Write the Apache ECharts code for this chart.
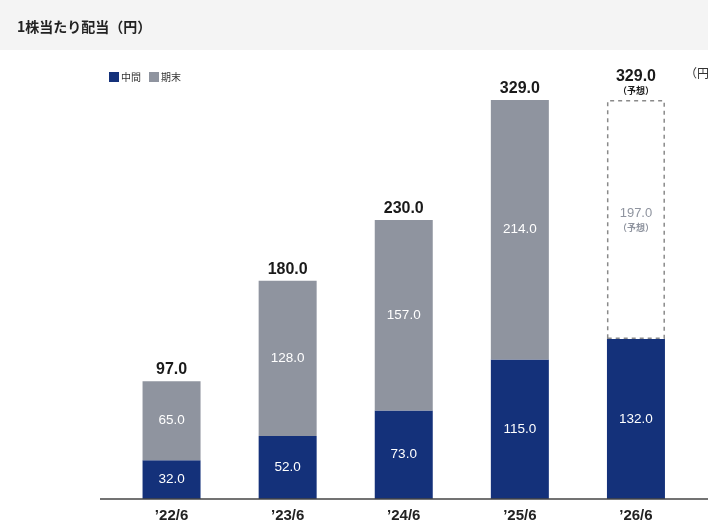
<!DOCTYPE html>
<html>
<head>
<meta charset="utf-8">
<script src="https://cdn.jsdelivr.net/npm/echarts@6/dist/echarts.min.js"></script>
<style>
  html, body { margin: 0; padding: 0; background: #fff; }
  #chart { width: 708px; height: 527px; }
</style>
</head>
<body>
<div id="chart"></div>
<script>
var categories = ['\u201922/6', '\u201923/6', '\u201924/6', '\u201925/6', '\u201926/6'];
var interim = [32.0, 52.0, 73.0, 115.0, 132.0];
var yearEnd = [65.0, 128.0, 157.0, 214.0, 197.0];
var totals = [97.0, 180.0, 230.0, 329.0, 329.0];
var forecastIndex = 4;

var navy = '#14317a';
var grey = '#8f949f';
var font = 'Liberation Sans, Arial, sans-serif';
var jpFont = 'Noto Sans CJK JP, sans-serif';

var chart = echarts.init(document.getElementById('chart'));

var endData = yearEnd.map(function (v, i) {
  if (i !== forecastIndex) return v;
  return {
    value: v,
    itemStyle: { color: '#fff', borderColor: '#8a8a8a', borderType: [4, 4], borderWidth: 1.5 },
    label: {
      color: grey,
      formatter: function (p) { return '{v|' + p.value.toFixed(1) + '}\n{s|（予想）}'; },
      rich: {
        v: { fontSize: 13, color: grey, fontFamily: font, lineHeight: 17 },
        s: { fontSize: 9, color: grey, fontFamily: jpFont, fontWeight: 'bold', lineHeight: 13 }
      }
    }
  };
});

var option = {
  animation: false,
  graphic: [
    { type: 'rect', shape: { x: 0, y: 0, width: 708, height: 50 }, style: { fill: '#f4f4f4' }, z: -1 },
    { type: 'text', left: 685, top: 67, style: { text: '（円）', fontSize: 12, fill: '#333', fontFamily: jpFont } },
    { type: 'line', shape: { x1: 100, y1: 499, x2: 708, y2: 499 }, style: { stroke: '#444', lineWidth: 1.5 }, z: 10 }
  ],
  title: {
    text: '1株当たり配当（円）',
    left: 12, top: 15,
    textStyle: { fontSize: 14, fontWeight: 'bold', color: '#222', fontFamily: jpFont }
  },
  legend: {
    left: 104, top: 67,
    itemWidth: 10, itemHeight: 10, itemGap: 8,
    icon: 'rect',
    data: ['中間', '期末'],
    textStyle: { fontSize: 10, color: '#333', fontFamily: jpFont, padding: [0, 0, 0, -3] }
  },
  grid: { left: 113.5, width: 580.5, top: 74.5, bottom: 28 },
  xAxis: {
    type: 'category',
    data: categories,
    axisLine: { show: false },
    axisTick: { show: false },
    axisLabel: { margin: 9, fontSize: 15, fontWeight: 'bold', color: '#222', fontFamily: font }
  },
  yAxis: { type: 'value', min: 0, max: 350, show: false, splitLine: { show: false } },
  series: [
    {
      name: '中間', type: 'bar', stack: 'd', barWidth: 58,
      itemStyle: { color: navy },
      label: {
        show: true, position: 'inside', color: '#fff', fontSize: 13.5, fontFamily: font,
        formatter: function (p) { return p.value.toFixed(1); }
      },
      data: interim
    },
    {
      name: '期末', type: 'bar', stack: 'd', barWidth: 58,
      itemStyle: { color: grey },
      label: {
        show: true, position: 'inside', color: '#fff', fontSize: 13.5, fontFamily: font,
        formatter: function (p) { return p.value.toFixed(1); }
      },
      data: endData
    },
    {
      name: '合計', type: 'bar', stack: 'd', barWidth: 58,
      itemStyle: { color: 'transparent' },
      silent: true,
      label: {
        show: true, position: 'top', distance: 3,
        formatter: function (p) {
          var t = '{t|' + totals[p.dataIndex].toFixed(1) + '}';
          if (p.dataIndex === forecastIndex) t += '\n{s|（予想）}';
          return t;
        },
        rich: {
          t: { fontSize: 16, fontWeight: 'bold', color: '#1a1a1a', fontFamily: font, lineHeight: 17 },
          s: { fontSize: 9, fontWeight: 'bold', color: '#1a1a1a', fontFamily: jpFont, lineHeight: 12 }
        }
      },
      data: totals.map(function () { return 0; })
    }
  ]
};

chart.setOption(option);
</script>
</body>
</html>
